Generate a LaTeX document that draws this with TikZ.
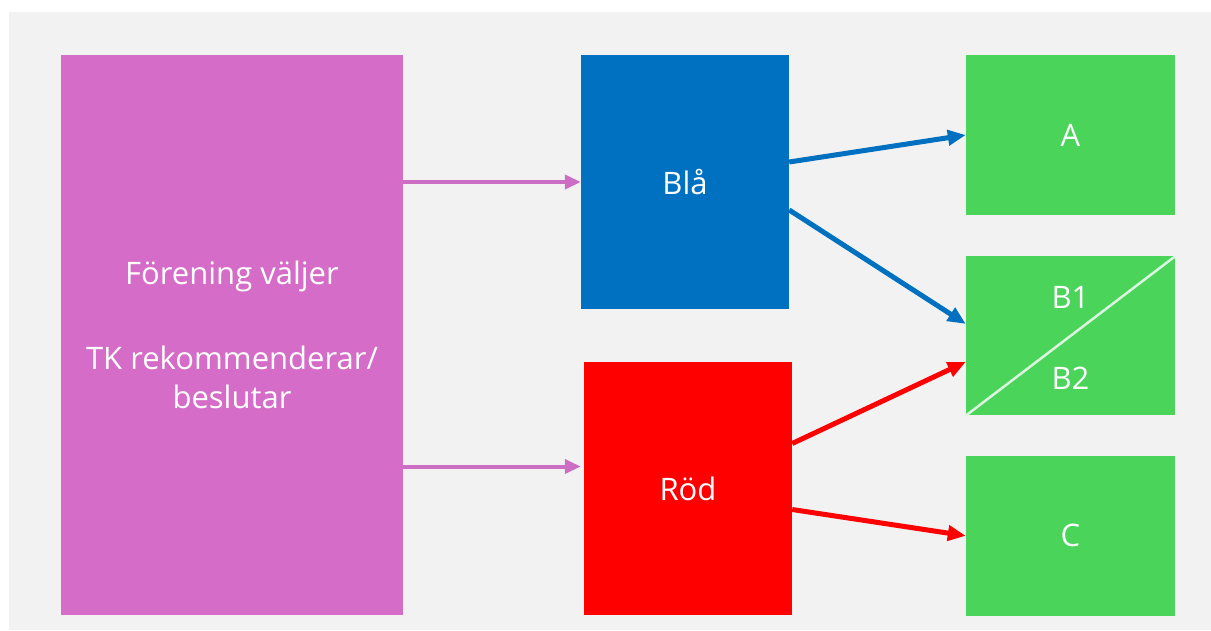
\documentclass[tikz,border=0pt]{standalone}
\usepackage{fontspec}
\setmainfont{Open Sans}
\usepackage{xcolor}
\usetikzlibrary{positioning, arrows.meta}
\definecolor{bgGray}{RGB}{242,242,242}
\definecolor{orchid}{RGB}{212,108,200}
\definecolor{orchidLine}{RGB}{204,110,196}
\definecolor{offBlue}{RGB}{0,112,192}
\definecolor{offRed}{RGB}{255,0,0}
\definecolor{offGreen}{RGB}{74,212,90}
\tikzset{
    box/.style={rectangle, draw=none, align=center, inner sep=0pt, text=white, font=\fontsize{31}{39}\selectfont},
    choice/.style={box, fill=orchid, minimum width=342pt, minimum height=560pt},
    team/.style={box, minimum width=208pt, minimum height=254pt},
    level/.style={box, fill=offGreen, minimum width=209pt, minimum height=160pt},
    arrow/.style={-{Triangle[length=18pt, width=15pt]}, line width=5pt},
    pinkArrow/.style={-{Triangle[length=16pt, width=14pt]}, line width=4pt, draw=orchidLine}
}
\begin{document}
\begin{tikzpicture}[x=1pt, y=-1pt]
        % Background
        \useasboundingbox (0,0) rectangle (1211,630);
        \fill[bgGray] (9,12) rectangle (1211,630);

        % Nodes
        \node[choice] (Choice) at (232,335) {Förening väljer\\[46pt]TK rekommenderar/\\beslutar};
        \node[team, fill=offBlue] (Blue) at (685,182) {Blå};
        \node[team, fill=offRed, minimum height=253pt] (Red) at (688,488.5) {Röd};

        \node[level] (A) at (1070.5,135) {A};
        \node[level, below=41pt of A, minimum height=159pt] (B) {};
        \node[level, below=40pt of B] (C) {C};

        % Split of B
        \draw[white!80!offGreen, line width=2.5pt] (B.south west) -- (B.north east);
        \node[box, above=27pt of B.center] (BOne) {B1};
        \node[box, below=31pt of B.center] (BTwo) {B2};

        % Edges
        \coordinate (RedIn) at ([yshift=22pt, xshift=-3pt]Red.west);
        \draw[pinkArrow] (Choice.east |- Blue.west) -- (Blue.west);
        \draw[pinkArrow] (Choice.east |- RedIn) -- (RedIn);
        \draw[arrow, offBlue] ([yshift=20pt]Blue.east) -- (A.west);
        \draw[arrow, offBlue] ([yshift=-28pt]Blue.east) -- ([yshift=12pt]B.west);
        \draw[arrow, offRed] ([yshift=45pt]Red.east) -- ([yshift=-26pt]B.west);
        \draw[arrow, offRed] ([yshift=-21pt]Red.east) -- (C.west);

    \end{tikzpicture}
\end{document}
